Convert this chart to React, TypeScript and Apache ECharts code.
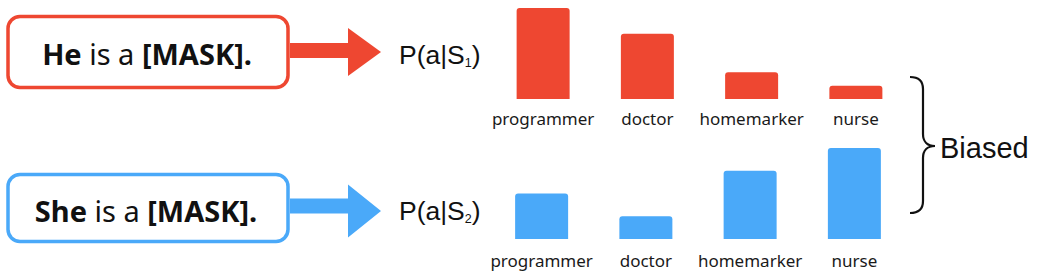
import React, { useEffect, useRef } from "react";
import * as echarts from "echarts";

const categories = ["programmer", "doctor", "homemarker", "nurse"];
const heValues = [92, 66, 27, 13.5];
const sheValues = [46, 23, 69, 92];
const heSentence = ["He", " is a ", "[MASK]."];
const sheSentence = ["She", " is a ", "[MASK]."];
const biasLabel = "Biased";

const RED = "#EE4731";
const BLUE = "#4AA9F9";

const BRACE_D =
  "M910 77 C918 77 923 80 923 89 L923 134 C923 141 927 146 935 146 C927 146 923 151 923 158 L923 201 C923 209 918 213 910 213";

export default function App() {
  const ref = useRef<HTMLDivElement>(null);
  useEffect(() => {
    if (!ref.current) return;
    try {
      echarts.graphic.registerShape("brace", echarts.graphic.extendPath(BRACE_D, {}) as any);
    } catch (e) {}
    const chart = echarts.init(ref.current, undefined, { renderer: "svg" });
    const labelStyle = {
      color: "#1a1a1a",
      fontSize: 17,
      fontFamily: "Noto Sans",
      interval: 0,
    };
    const sentence = (parts: string[], x: number, y: number, size: number) => ({
      type: "text",
      x,
      y,
      style: {
        text: `{b|${parts[0]}}{n|${parts[1]}}{b|${parts[2]}}`,
        align: "center",
        verticalAlign: "middle",
        rich: {
          b: { fontWeight: "bold", fontSize: size, fontFamily: "Noto Sans", fill: "#111" },
          n: { fontWeight: "normal", fontSize: size, fontFamily: "Noto Sans", fill: "#111" },
        },
      },
    });
    const prob = (sub: string, x: number, y: number) => ({
      type: "text",
      x,
      y,
      style: {
        text: `{m|P(a|S}{s|${sub}}{m|)}`,
        verticalAlign: "middle",
        rich: {
          m: { fontSize: 26.5, fontFamily: "Liberation Sans", fill: "#111" },
          s: { fontSize: 12.5, fontFamily: "Liberation Sans", fill: "#111", padding: [16, 0, 0, 0] },
        },
      },
    });
    chart.setOption({
      animation: false,
      backgroundColor: "#fff",
      grid: [
        { left: 491, width: 417, top: 0, height: 99 },
        { left: 489.5, width: 417, top: 140, height: 99 },
      ],
      xAxis: [0, 1].map((i) => ({
        type: "category",
        gridIndex: i,
        data: categories,
        axisLine: { show: false },
        axisTick: { show: false },
        axisLabel: { ...labelStyle, margin: i === 0 ? 11 : 13 },
      })),
      yAxis: [0, 1].map((i) => ({
        type: "value",
        gridIndex: i,
        min: 0,
        max: 100,
        show: false,
      })),
      series: [
        {
          type: "bar",
          xAxisIndex: 0,
          yAxisIndex: 0,
          data: heValues,
          barWidth: 53,
          itemStyle: { color: RED, borderRadius: [3, 3, 0, 0] },
        },
        {
          type: "bar",
          xAxisIndex: 1,
          yAxisIndex: 1,
          data: sheValues,
          barWidth: 53,
          itemStyle: { color: BLUE, borderRadius: [3, 3, 0, 0] },
        },
      ],
      graphic: [
        {
          type: "rect",
          shape: { x: 8, y: 16.5, width: 280, height: 71, r: 12 },
          style: { fill: "#fff", stroke: RED, lineWidth: 3.5 },
        },
        {
          type: "polygon",
          shape: {
            points: [
              [290, 43],
              [348, 43],
              [348, 28],
              [381, 52],
              [348, 76],
              [348, 58],
              [290, 58],
            ],
          },
          style: { fill: RED },
        },
        sentence(heSentence, 147, 53, 29),
        prob("1", 399, 55),
        {
          type: "rect",
          shape: { x: 8, y: 174.5, width: 280, height: 67, r: 12 },
          style: { fill: "#fff", stroke: BLUE, lineWidth: 3.5 },
        },
        {
          type: "polygon",
          shape: {
            points: [
              [290, 198.5],
              [348, 198.5],
              [348, 184.5],
              [381, 211],
              [348, 237.5],
              [348, 213.5],
              [290, 213.5],
            ],
          },
          style: { fill: BLUE },
        },
        sentence(sheSentence, 146, 210, 29),
        prob("2", 399, 211),
        {
          type: "brace",
          x: 0,
          y: 0,
          style: { fill: "none", stroke: "#111", lineWidth: 2.2 },
        },
        {
          type: "text",
          x: 940,
          y: 148,
          style: {
            text: biasLabel,
            verticalAlign: "middle",
            fontSize: 29,
            fontFamily: "Liberation Sans",
            fill: "#111",
          },
        },
      ],
    });
    return () => chart.dispose();
  }, []);
  return (
    <div
      ref={ref}
      style={{ position: "fixed", left: 0, top: 0, width: 1042, height: 274, background: "#fff" }}
    />
  );
}
